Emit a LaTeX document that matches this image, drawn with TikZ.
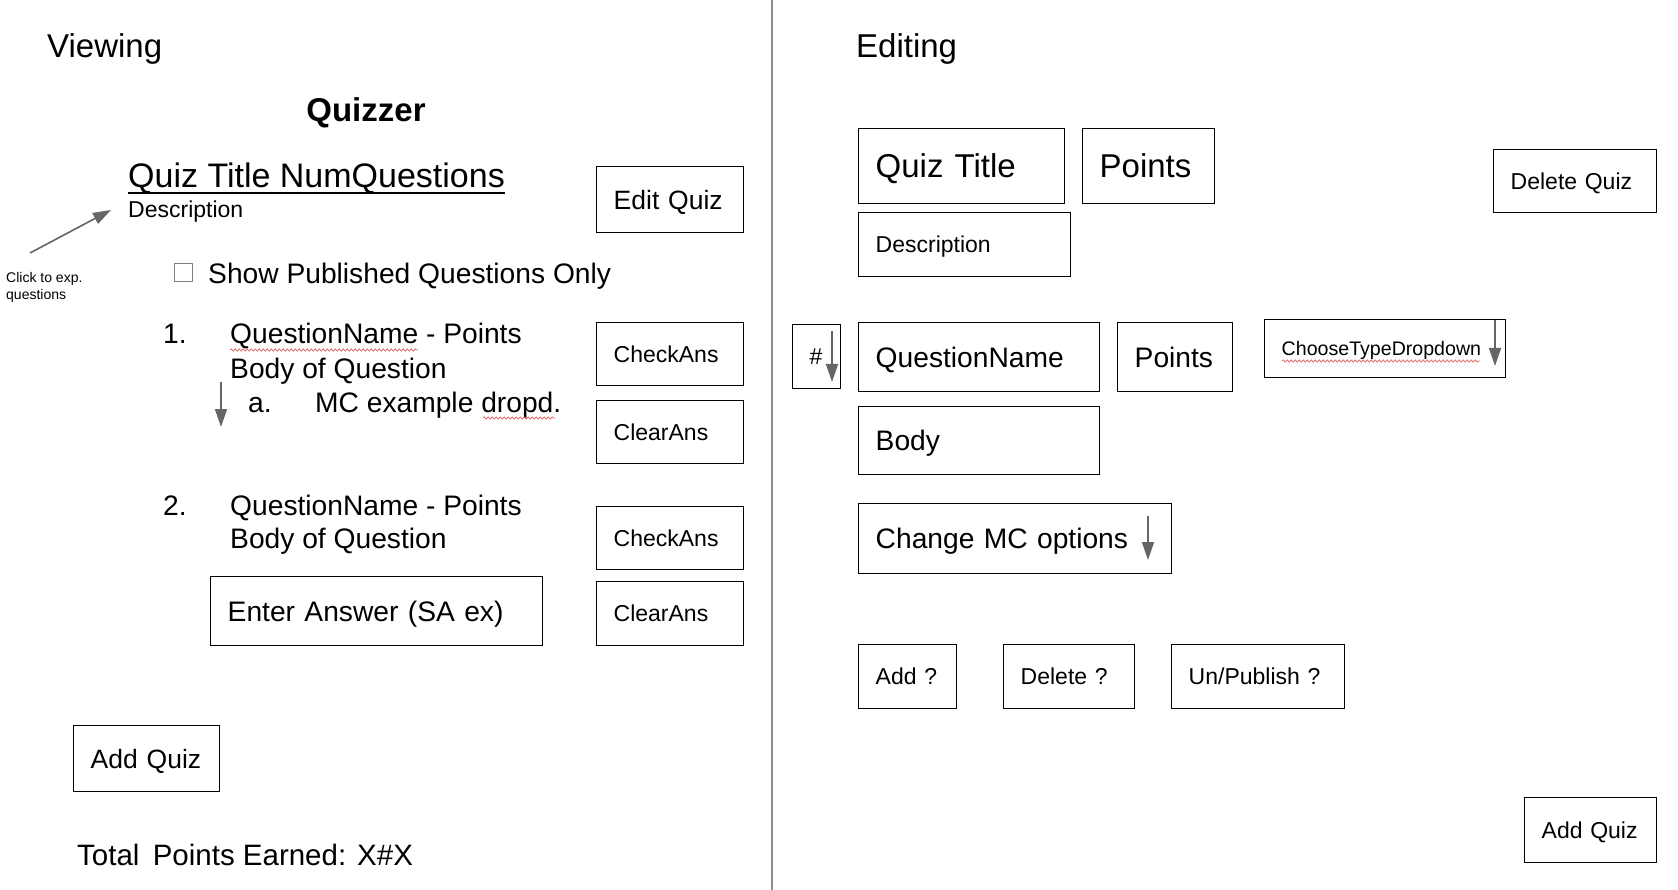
\documentclass[tikz,border=0pt]{standalone}
\usepackage{fontspec}
\setmainfont{Liberation Sans}
\usetikzlibrary{arrows.meta,decorations.pathmorphing}
\definecolor{arrowgray}{HTML}{666666}
\definecolor{divgray}{HTML}{8C8C8C}
\definecolor{squig}{HTML}{E06060}
\begin{document}
\begin{tikzpicture}[x=1pt,y=-1pt,
  f33/.style={font=\fontsize{33}{40}\selectfont, text height=23.6pt},
  f30/.style={font=\fontsize{29.5}{35}\selectfont},
  f28/.style={font=\fontsize{28.2}{34}\selectfont, text height=20.2pt},
  f26/.style={font=\fontsize{26.5}{32}\selectfont, text height=19pt},
  f23/.style={font=\fontsize{23}{28}\selectfont, text height=16.5pt},
  f20/.style={font=\fontsize{19.6}{24}\selectfont, text height=14pt},
  f14/.style={font=\fontsize{14}{17}\selectfont},
  txt/.style={inner sep=0pt, anchor=base west},
  bx/.style={draw, line width=1.4pt, inner xsep=17pt, inner ysep=0pt, align=left,
             anchor=north west, text depth=0pt},
  garrow/.style={draw=arrowgray, line width=1.6pt, -{Triangle[length=18pt,width=12pt]}},
  sq/.style={draw=squig, line width=0.7pt, decorate,
             decoration={snake, amplitude=1.1pt, segment length=4pt}}
]
\useasboundingbox (0,0) rectangle (1678,890);
\fill[white] (0,0) rectangle (1678,890);

% divider
\draw[divgray, line width=2pt] (772,0) -- (772,890);

% ---------------- Viewing panel ----------------
\node[txt, f33] (viewing) at (47,58) {Viewing};
\node[inner sep=0pt, anchor=base, font=\fontsize{33}{40}\selectfont\bfseries] (quizzer) at (366,122) {Quizzer};
\node[txt, font=\fontsize{34}{40}\selectfont] (qtl) at (128,188) {Quiz Title NumQuestions};
\draw[line width=1.8pt] ([yshift=-5pt]qtl.base west) -- ([yshift=-5pt]qtl.base east);
\node[txt, f23] (desc) at (128,218) {Description};

\node[txt, f14] (click1) at (6,283) {Click to exp.};
\node[txt, f14] (click2) at (6,300) {questions};
\coordinate (clicktail) at (30,253);
\coordinate (clickhead) at (111,210);
\draw[garrow] (clicktail) -- (clickhead);

\node[draw=gray, line width=1pt, minimum size=18pt, inner sep=0pt, anchor=north west] (chk) at (174,263) {};
\node[txt, f28] (showpub) at (208,284) {Show Published Questions Only};

\node[txt, f28] (n1) at (163,344) {1.};
\node[txt, f28] (q1) at (230,344) {QuestionName - Points};
\node[txt, f28] (b1) at (230,378) {Body of Question};
\node[txt, f28] (a1) at (248,412) {a.};
\node[txt, f28] (mc1) at (315,412) {MC example dropd.};
\coordinate (dd1a) at (221,382);
\coordinate (dd1b) at (221,427);
\draw[garrow] (dd1a) -- (dd1b);
\draw[sq] (230,350) -- (418,350);
\draw[sq] (483,418) -- (555,418);

\node[txt, f28] (n2) at (163,515) {2.};
\node[txt, f28] (q2) at (230,515) {QuestionName - Points};
\node[txt, f28] (b2) at (230,548) {Body of Question};

\node[bx, f26, text width=113pt, minimum height=66pt] (editquiz) at (596,166) {Edit Quiz};
\node[bx, f23, text width=113pt, minimum height=63pt] (check1) at (596,322) {CheckAns};
\node[bx, f23, text width=113pt, minimum height=63pt] (clear1) at (596,400) {ClearAns};
\node[bx, f23, text width=113pt, minimum height=63pt] (check2) at (596,506) {CheckAns};
\node[bx, f23, text width=113pt, minimum height=64pt] (clear2) at (596,581) {ClearAns};
\node[bx, f28, text width=298pt, minimum height=69pt] (answer) at (210,576) {Enter Answer (SA ex)};
\node[bx, f26, text width=112pt, minimum height=66pt] (addquizL) at (73,725) {Add Quiz};

\node[txt, f30] (total) at (77,865) {Total\hspace{0.45em}Points Earned: X\#X};

% ---------------- Editing panel ----------------
\node[txt, f33] (editing) at (856,58) {Editing};
\node[bx, f33, text width=172pt, minimum height=75pt] (qtitle) at (858,128) {Quiz Title};
\node[bx, f33, text width=98pt, minimum height=75pt] (qpoints) at (1082,128) {Points};
\node[bx, f23, text width=178pt, minimum height=64pt] (qdesc) at (858,212) {Description};
\node[bx, f23, text width=129pt, minimum height=63pt] (delquiz) at (1493,149) {Delete Quiz};

\node[bx, f23, text width=14pt, minimum height=64pt] (num) at (792,324) {\#};
\coordinate (dd2a) at (832,331);
\coordinate (dd2b) at (832,382);
\draw[garrow] (dd2a) -- (dd2b);
\node[bx, f28, text width=207pt, minimum height=69pt] (qname) at (858,322) {QuestionName};
\node[bx, f28, text width=81pt, minimum height=69pt] (qpts) at (1117,322) {Points};
\node[bx, f20, text width=207pt, minimum height=58pt] (qtype) at (1264,319) {ChooseTypeDropdown};
\coordinate (dd3a) at (1495,320);
\coordinate (dd3b) at (1495,366);
\draw[garrow] (dd3a) -- (dd3b);
\draw[sq] (1282,361) -- (1480,361);
\node[bx, f28, text width=207pt, minimum height=68pt] (qbody) at (858,406) {Body};

\node[bx, f28, text width=279pt, minimum height=70pt] (mcopt) at (858,503) {Change MC options};
\coordinate (dd4a) at (1148,516);
\coordinate (dd4b) at (1148,560);
\draw[garrow] (dd4a) -- (dd4b);

\node[bx, f23, text width=64pt, minimum height=64pt] (addq) at (858,644) {Add ?};
\node[bx, f23, text width=97pt, minimum height=64pt] (delq) at (1003,644) {Delete ?};
\node[bx, f23, text width=139pt, minimum height=64pt] (pubq) at (1171,644) {Un/Publish ?};
\node[bx, f23, text width=98pt, minimum height=65pt] (addquizR) at (1524,797) {Add Quiz};
\end{tikzpicture}
\end{document}
